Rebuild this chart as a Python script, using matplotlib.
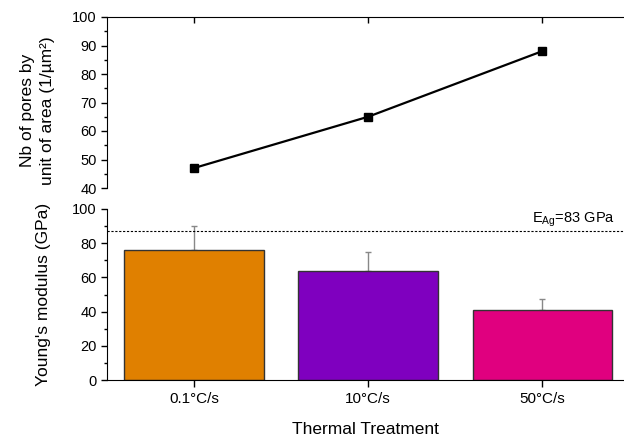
import matplotlib
matplotlib.use("Agg")
import matplotlib.pyplot as plt
from matplotlib.ticker import MultipleLocator

plt.rcParams['font.family'] = ['Liberation Sans', 'DejaVu Sans']

categories = ['0.1°C/s', '10°C/s', '50°C/s']
pores = [47, 65, 88]
modulus = [76, 64, 41]
modulus_err = [14, 11, 6.5]
bar_colors = ['#E08000', '#7F00BF', '#E0007F']
e_ag_line = 87

W, H = 624, 438
fig = plt.figure(figsize=(W/100, H/100), dpi=100)

def ax_rect(l, t, r, b):
    return [l/W, 1 - b/H, (r - l)/W, (b - t)/H]

x = list(range(len(categories)))

# Top panel
ax1 = fig.add_axes(ax_rect(107, 17, 624, 188))
ax1.plot(x, pores, color='black', lw=1.6, marker='s', markersize=5.5, zorder=3)
ax1.set_xlim(-0.5, 2.47)
ax1.set_ylim(40, 100)
ax1.yaxis.set_major_locator(MultipleLocator(10))
ax1.yaxis.set_minor_locator(MultipleLocator(5))
for s in ['right', 'bottom']:
    ax1.spines[s].set_visible(False)
ax1.xaxis.tick_top()
ax1.set_xticks(x)
ax1.set_xticklabels([])
ax1.tick_params(axis='x', direction='in', length=4, width=1)
ax1.tick_params(axis='y', which='major', direction='out', length=4, width=1, labelsize=10.5)
ax1.tick_params(axis='y', which='minor', direction='out', length=2.5, width=1)
ax1.set_ylabel('Nb of pores by\nunit of area (1/µm²)', fontsize=12.5,
               linespacing=1.45)
ax1.yaxis.set_label_coords(-0.1, 0.455)

# Bottom panel
ax2 = fig.add_axes(ax_rect(107, 209, 624, 380))
ax2.bar(x, modulus, width=0.8, color=bar_colors, edgecolor='#333333', linewidth=1, zorder=2)
ax2.errorbar(x, modulus, yerr=[[0]*3, modulus_err], fmt='none', ecolor='#888888',
             elinewidth=1, capsize=2.5, capthick=1, zorder=1)
ax2.axhline(e_ag_line, color='black', lw=0.8, ls=(0, (2, 1.5)))
ax2.text(2.42, e_ag_line + 1.5, r'E$_{\mathregular{Ag}}$=83 GPa', ha='right', va='bottom', fontsize=10.5)
ax2.set_xlim(-0.5, 2.47)
ax2.set_ylim(0, 100)
ax2.yaxis.set_major_locator(MultipleLocator(20))
ax2.yaxis.set_minor_locator(MultipleLocator(10))
for s in ['right', 'top']:
    ax2.spines[s].set_visible(False)
ax2.set_xticks(x)
ax2.set_xticklabels(categories)
ax2.tick_params(axis='x', direction='out', length=5, width=1, labelsize=11)
ax2.tick_params(axis='y', which='major', direction='out', length=4, width=1, labelsize=10.5)
ax2.tick_params(axis='y', which='minor', direction='out', length=2.5, width=1)
ax2.set_ylabel("Young's modulus (GPa)", fontsize=12.5, labelpad=15)
ax2.set_xlabel('Thermal Treatment', fontsize=12.5, labelpad=12)

fig.savefig('out.png', dpi=100)
